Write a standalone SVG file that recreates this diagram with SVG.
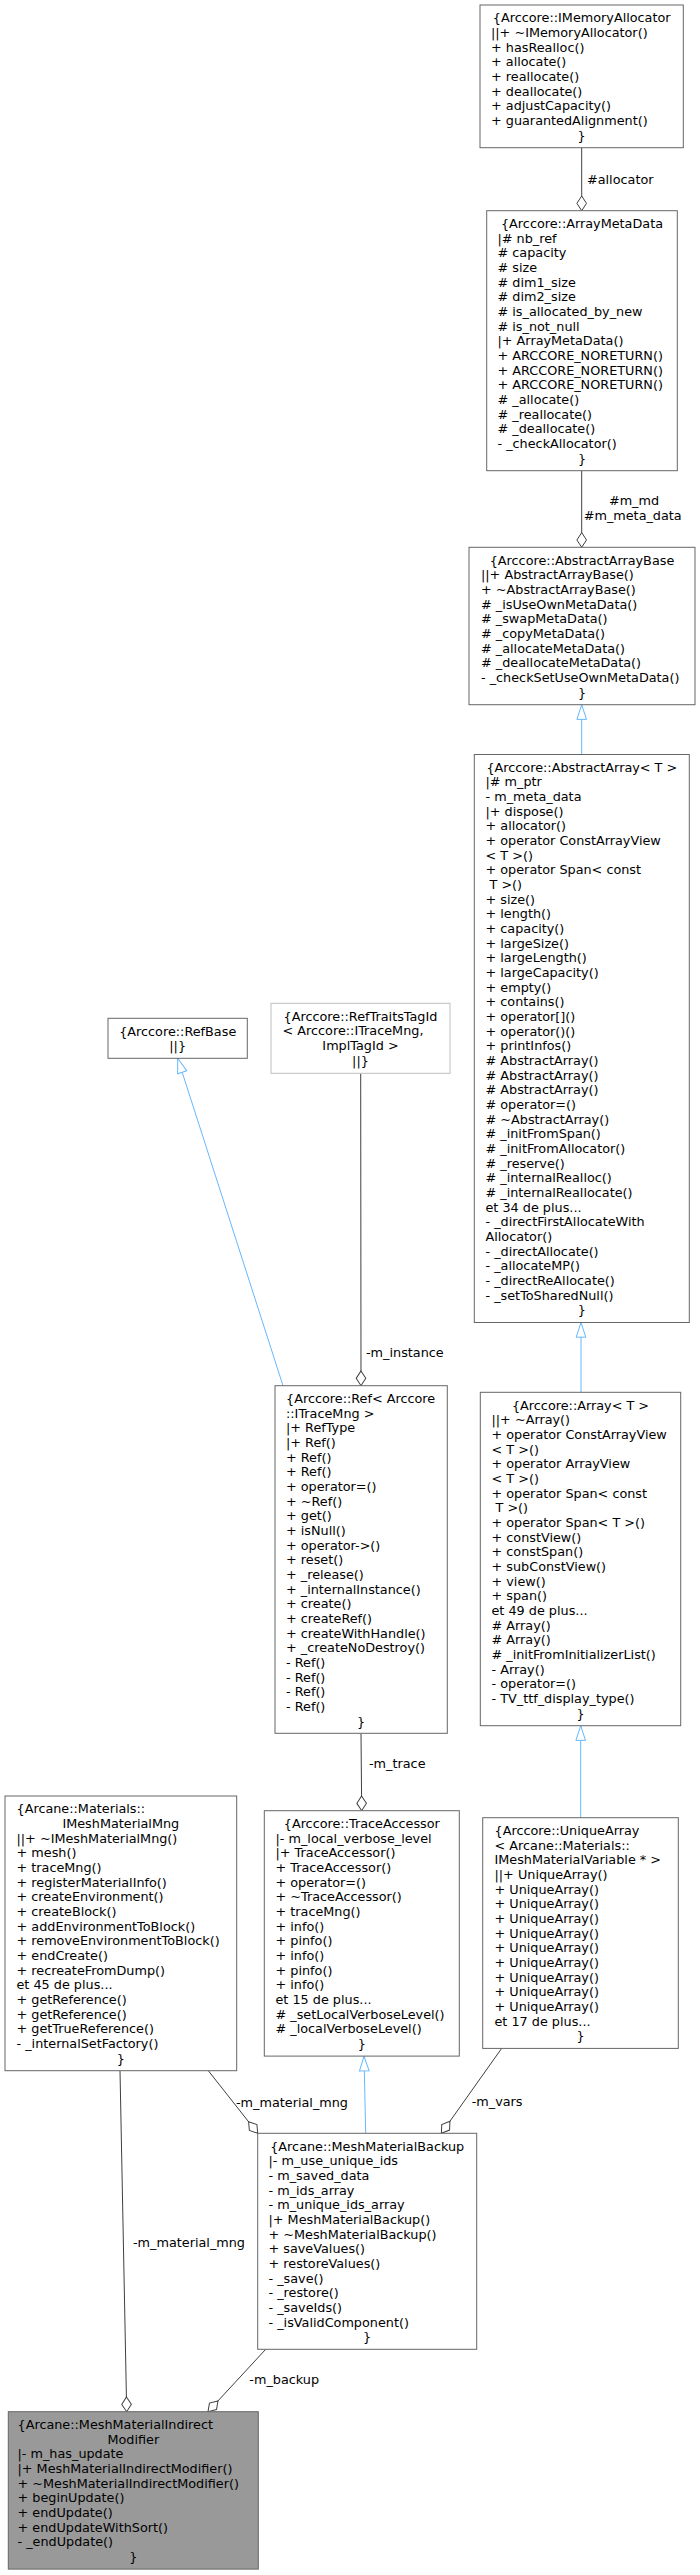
<svg xmlns="http://www.w3.org/2000/svg" width="700" height="2575" viewBox="0 0 700 2575">
<style>
.bg{fill:#ffffff}
.box{fill:#ffffff;stroke:#666666;stroke-width:1}
.boxl{fill:#ffffff;stroke:#bfbfbf;stroke-width:1}
.boxc{fill:#999999;stroke:#666666;stroke-width:1}
.t{font-family:"DejaVu Sans",sans-serif;font-size:12.8px;fill:#000000}
.c{text-anchor:middle}
.e{fill:none;stroke:#404040;stroke-width:1}
.i{fill:none;stroke:#63b8ff;stroke-width:1}
</style>
<defs>
<marker id="dia" viewBox="0 0 15 10" refX="14.7" refY="5" markerWidth="15" markerHeight="10" markerUnits="userSpaceOnUse" orient="auto" overflow="visible"><path d="M0,5 L7.35,0.2 L14.7,5 L7.35,9.8 Z" fill="#ffffff" stroke="#404040" stroke-width="1"/></marker>
<marker id="tri" viewBox="0 0 15 10" refX="14.7" refY="5" markerWidth="15" markerHeight="10" markerUnits="userSpaceOnUse" orient="auto" overflow="visible"><path d="M0,0.2 L14.7,5 L0,9.8 Z" fill="#ffffff" stroke="#63b8ff" stroke-width="1"/></marker>
</defs>
<rect class="bg" x="0" y="0" width="700" height="2575"/>

<g id="connectors">
<path class="e" d="M581.7,147.7 L581.7,210.7" marker-end="url(#dia)"/>
<path class="e" d="M581.7,470.7 L581.7,547.3" marker-end="url(#dia)"/>
<path class="i" d="M581.7,754.5 L581.7,704.7" marker-end="url(#tri)"/>
<path class="i" d="M581,1392.3 L581,1322.5" marker-end="url(#tri)"/>
<path class="i" d="M580.7,1817.7 L580.7,1725.7" marker-end="url(#tri)"/>
<path class="i" d="M283,1385.7 L177.7,1058.3" marker-end="url(#tri)"/>
<path class="e" d="M360.7,1073.3 L361,1385.7" marker-end="url(#dia)"/>
<path class="e" d="M361,1733.3 L361.7,1810.7" marker-end="url(#dia)"/>
<path class="i" d="M365.7,2133.3 L364,2056.1" marker-end="url(#tri)"/>
<path class="e" d="M208.3,2070.7 L257.7,2133.3" marker-end="url(#dia)"/>
<path class="e" d="M501.7,2048.3 L441.4,2133.3" marker-end="url(#dia)"/>
<path class="e" d="M120,2070.7 L126.7,2411.7" marker-end="url(#dia)"/>
<path class="e" d="M265.7,2349.3 L208,2411.7" marker-end="url(#dia)"/>
<text class="t" x="587" y="183.5">#allocator</text>
<text class="t c" x="634" y="504.5">#m_md</text>
<text class="t c" x="632.7" y="519.5">#m_meta_data</text>
<text class="t" x="366" y="1356.5">-m_instance</text>
<text class="t" x="369" y="1767.5">-m_trace</text>
<text class="t" x="236" y="2106.5">-m_material_mng</text>
<text class="t" x="471.7" y="2105.5">-m_vars</text>
<text class="t" x="245" y="2246.5" text-anchor="end">-m_material_mng</text>
<text class="t" x="249.3" y="2383.8">-m_backup</text>
</g>

<g id="IMemoryAllocator">
<rect class="box" x="480" y="5" width="203.3" height="142.7"/>
<text class="t c" x="581.7" y="22.2">{Arccore::IMemoryAllocator</text>
<text class="t" x="491" y="36.9"><tspan x="491">||+ ~IMemoryAllocator()</tspan><tspan x="491" dy="14.667">+ hasRealloc()</tspan><tspan x="491" dy="14.667">+ allocate()</tspan><tspan x="491" dy="14.667">+ reallocate()</tspan><tspan x="491" dy="14.667">+ deallocate()</tspan><tspan x="491" dy="14.667">+ adjustCapacity()</tspan><tspan x="491" dy="14.667">+ guarantedAlignment()</tspan></text>
<text class="t c" x="581.7" y="139.5">}</text>
</g>

<g id="ArrayMetaData">
<rect class="box" x="486.7" y="210.7" width="190.6" height="260"/>
<text class="t c" x="582" y="227.9">{Arccore::ArrayMetaData</text>
<text class="t" x="497.5" y="242.6"><tspan x="497.5">|# nb_ref</tspan><tspan x="497.5" dy="14.667"># capacity</tspan><tspan x="497.5" dy="14.667"># size</tspan><tspan x="497.5" dy="14.667"># dim1_size</tspan><tspan x="497.5" dy="14.667"># dim2_size</tspan><tspan x="497.5" dy="14.667"># is_allocated_by_new</tspan><tspan x="497.5" dy="14.667"># is_not_null</tspan><tspan x="497.5" dy="14.667">|+ ArrayMetaData()</tspan><tspan x="497.5" dy="14.667">+ ARCCORE_NORETURN()</tspan><tspan x="497.5" dy="14.667">+ ARCCORE_NORETURN()</tspan><tspan x="497.5" dy="14.667">+ ARCCORE_NORETURN()</tspan><tspan x="497.5" dy="14.667"># _allocate()</tspan><tspan x="497.5" dy="14.667"># _reallocate()</tspan><tspan x="497.5" dy="14.667"># _deallocate()</tspan><tspan x="497.5" dy="14.667">- _checkAllocator()</tspan></text>
<text class="t c" x="582" y="462.6">}</text>
</g>

<g id="AbstractArrayBase">
<rect class="box" x="469" y="547.3" width="226" height="157.4"/>
<text class="t c" x="582" y="564.5">{Arccore::AbstractArrayBase</text>
<text class="t" x="481" y="579.2"><tspan x="481">||+ AbstractArrayBase()</tspan><tspan x="481" dy="14.667">+ ~AbstractArrayBase()</tspan><tspan x="481" dy="14.667"># _isUseOwnMetaData()</tspan><tspan x="481" dy="14.667"># _swapMetaData()</tspan><tspan x="481" dy="14.667"># _copyMetaData()</tspan><tspan x="481" dy="14.667"># _allocateMetaData()</tspan><tspan x="481" dy="14.667"># _deallocateMetaData()</tspan><tspan x="481" dy="14.667">- _checkSetUseOwnMetaData()</tspan></text>
<text class="t c" x="582" y="696.5">}</text>
</g>

<g id="AbstractArray">
<rect class="box" x="474.3" y="754.5" width="215" height="568"/>
<text class="t c" x="581.8" y="771.7">{Arccore::AbstractArray&lt; T &gt;</text>
<text class="t" x="485.5" y="786.4"><tspan x="485.5">|# m_ptr</tspan><tspan x="485.5" dy="14.667">- m_meta_data</tspan><tspan x="485.5" dy="14.667">|+ dispose()</tspan><tspan x="485.5" dy="14.667">+ allocator()</tspan><tspan x="485.5" dy="14.667">+ operator ConstArrayView</tspan><tspan x="485.5" dy="14.667">&lt; T &gt;()</tspan><tspan x="485.5" dy="14.667">+ operator Span&lt; const</tspan><tspan x="489.5" dy="14.667">T &gt;()</tspan><tspan x="485.5" dy="14.667">+ size()</tspan><tspan x="485.5" dy="14.667">+ length()</tspan><tspan x="485.5" dy="14.667">+ capacity()</tspan><tspan x="485.5" dy="14.667">+ largeSize()</tspan><tspan x="485.5" dy="14.667">+ largeLength()</tspan><tspan x="485.5" dy="14.667">+ largeCapacity()</tspan><tspan x="485.5" dy="14.667">+ empty()</tspan><tspan x="485.5" dy="14.667">+ contains()</tspan><tspan x="485.5" dy="14.667">+ operator[]()</tspan><tspan x="485.5" dy="14.667">+ operator()()</tspan><tspan x="485.5" dy="14.667">+ printInfos()</tspan><tspan x="485.5" dy="14.667"># AbstractArray()</tspan><tspan x="485.5" dy="14.667"># AbstractArray()</tspan><tspan x="485.5" dy="14.667"># AbstractArray()</tspan><tspan x="485.5" dy="14.667"># operator=()</tspan><tspan x="485.5" dy="14.667"># ~AbstractArray()</tspan><tspan x="485.5" dy="14.667"># _initFromSpan()</tspan><tspan x="485.5" dy="14.667"># _initFromAllocator()</tspan><tspan x="485.5" dy="14.667"># _reserve()</tspan><tspan x="485.5" dy="14.667"># _internalRealloc()</tspan><tspan x="485.5" dy="14.667"># _internalReallocate()</tspan><tspan x="485.5" dy="14.667">et 34 de plus...</tspan><tspan x="485.5" dy="14.667">- _directFirstAllocateWith</tspan><tspan x="485.5" dy="14.667">Allocator()</tspan><tspan x="485.5" dy="14.667">- _directAllocate()</tspan><tspan x="485.5" dy="14.667">- _allocateMP()</tspan><tspan x="485.5" dy="14.667">- _directReAllocate()</tspan><tspan x="485.5" dy="14.667">- _setToSharedNull()</tspan></text>
<text class="t c" x="581.8" y="1314.4">}</text>
</g>

<g id="Array">
<rect class="box" x="480.3" y="1392.3" width="200.4" height="333.4"/>
<text class="t c" x="580.5" y="1409.5">{Arccore::Array&lt; T &gt;</text>
<text class="t" x="491.5" y="1424.2"><tspan x="491.5">||+ ~Array()</tspan><tspan x="491.5" dy="14.667">+ operator ConstArrayView</tspan><tspan x="491.5" dy="14.667">&lt; T &gt;()</tspan><tspan x="491.5" dy="14.667">+ operator ArrayView</tspan><tspan x="491.5" dy="14.667">&lt; T &gt;()</tspan><tspan x="491.5" dy="14.667">+ operator Span&lt; const</tspan><tspan x="495.5" dy="14.667">T &gt;()</tspan><tspan x="491.5" dy="14.667">+ operator Span&lt; T &gt;()</tspan><tspan x="491.5" dy="14.667">+ constView()</tspan><tspan x="491.5" dy="14.667">+ constSpan()</tspan><tspan x="491.5" dy="14.667">+ subConstView()</tspan><tspan x="491.5" dy="14.667">+ view()</tspan><tspan x="491.5" dy="14.667">+ span()</tspan><tspan x="491.5" dy="14.667">et 49 de plus...</tspan><tspan x="491.5" dy="14.667"># Array()</tspan><tspan x="491.5" dy="14.667"># Array()</tspan><tspan x="491.5" dy="14.667"># _initFromInitializerList()</tspan><tspan x="491.5" dy="14.667">- Array()</tspan><tspan x="491.5" dy="14.667">- operator=()</tspan><tspan x="491.5" dy="14.667">- TV_ttf_display_type()</tspan></text>
<text class="t c" x="580.5" y="1717.5">}</text>
</g>

<g id="UniqueArray">
<rect class="box" x="482.7" y="1817.7" width="195.6" height="230.7"/>
<text class="t" x="494.5" y="1834.9"><tspan x="494.5">{Arccore::UniqueArray</tspan><tspan x="494.5" dy="14.667">&lt; Arcane::Materials::</tspan><tspan x="494.5" dy="14.667">IMeshMaterialVariable * &gt;</tspan><tspan x="494.5" dy="14.667">||+ UniqueArray()</tspan><tspan x="494.5" dy="14.667">+ UniqueArray()</tspan><tspan x="494.5" dy="14.667">+ UniqueArray()</tspan><tspan x="494.5" dy="14.667">+ UniqueArray()</tspan><tspan x="494.5" dy="14.667">+ UniqueArray()</tspan><tspan x="494.5" dy="14.667">+ UniqueArray()</tspan><tspan x="494.5" dy="14.667">+ UniqueArray()</tspan><tspan x="494.5" dy="14.667">+ UniqueArray()</tspan><tspan x="494.5" dy="14.667">+ UniqueArray()</tspan><tspan x="494.5" dy="14.667">+ UniqueArray()</tspan><tspan x="494.5" dy="14.667">et 17 de plus...</tspan></text>
<text class="t c" x="580.5" y="2040.2">}</text>
</g>

<g id="RefBase">
<rect class="box" x="108" y="1018.3" width="139.3" height="40"/>
<text class="t c" x="177.7" y="1035.5">{Arccore::RefBase</text>
<text class="t c" x="177.7" y="1050.2">||}</text>
</g>

<g id="RefTraitsTagId">
<rect class="boxl" x="271" y="1003.3" width="179" height="70"/>
<text class="t c" x="360.5" y="1020.5">{Arccore::RefTraitsTagId</text>
<text class="t" x="282.5" y="1035.2">&lt; Arccore::ITraceMng,</text>
<text class="t c" x="360.5" y="1049.8">ImplTagId &gt;</text>
<text class="t c" x="360.5" y="1064.5">||}</text>
</g>

<g id="Ref">
<rect class="box" x="275" y="1385.7" width="172.3" height="347.6"/>
<text class="t" x="286" y="1402.9"><tspan x="286">{Arccore::Ref&lt; Arccore</tspan><tspan x="286" dy="14.667">::ITraceMng &gt;</tspan><tspan x="286" dy="14.667">|+ RefType</tspan><tspan x="286" dy="14.667">|+ Ref()</tspan><tspan x="286" dy="14.667">+ Ref()</tspan><tspan x="286" dy="14.667">+ Ref()</tspan><tspan x="286" dy="14.667">+ operator=()</tspan><tspan x="286" dy="14.667">+ ~Ref()</tspan><tspan x="286" dy="14.667">+ get()</tspan><tspan x="286" dy="14.667">+ isNull()</tspan><tspan x="286" dy="14.667">+ operator-&gt;()</tspan><tspan x="286" dy="14.667">+ reset()</tspan><tspan x="286" dy="14.667">+ _release()</tspan><tspan x="286" dy="14.667">+ _internalInstance()</tspan><tspan x="286" dy="14.667">+ create()</tspan><tspan x="286" dy="14.667">+ createRef()</tspan><tspan x="286" dy="14.667">+ createWithHandle()</tspan><tspan x="286" dy="14.667">+ _createNoDestroy()</tspan><tspan x="286" dy="14.667">- Ref()</tspan><tspan x="286" dy="14.667">- Ref()</tspan><tspan x="286" dy="14.667">- Ref()</tspan><tspan x="286" dy="14.667">- Ref()</tspan></text>
<text class="t c" x="361" y="1725.6">}</text>
</g>

<g id="TraceAccessor">
<rect class="box" x="264.3" y="1810.7" width="195" height="245.4"/>
<text class="t c" x="361.8" y="1827.9">{Arccore::TraceAccessor</text>
<text class="t" x="275.5" y="1842.6"><tspan x="275.5">|- m_local_verbose_level</tspan><tspan x="275.5" dy="14.667">|+ TraceAccessor()</tspan><tspan x="275.5" dy="14.667">+ TraceAccessor()</tspan><tspan x="275.5" dy="14.667">+ operator=()</tspan><tspan x="275.5" dy="14.667">+ ~TraceAccessor()</tspan><tspan x="275.5" dy="14.667">+ traceMng()</tspan><tspan x="275.5" dy="14.667">+ info()</tspan><tspan x="275.5" dy="14.667">+ pinfo()</tspan><tspan x="275.5" dy="14.667">+ info()</tspan><tspan x="275.5" dy="14.667">+ pinfo()</tspan><tspan x="275.5" dy="14.667">+ info()</tspan><tspan x="275.5" dy="14.667">et 15 de plus...</tspan><tspan x="275.5" dy="14.667"># _setLocalVerboseLevel()</tspan><tspan x="275.5" dy="14.667"># _localVerboseLevel()</tspan></text>
<text class="t c" x="361.8" y="2047.9">}</text>
</g>

<g id="IMeshMaterialMng">
<rect class="box" x="5" y="1796" width="231.7" height="274.7"/>
<text class="t" x="16.5" y="1813.2">{Arcane::Materials::</text>
<text class="t c" x="120.8" y="1827.9">IMeshMaterialMng</text>
<text class="t" x="16.5" y="1842.5"><tspan x="16.5">||+ ~IMeshMaterialMng()</tspan><tspan x="16.5" dy="14.667">+ mesh()</tspan><tspan x="16.5" dy="14.667">+ traceMng()</tspan><tspan x="16.5" dy="14.667">+ registerMaterialInfo()</tspan><tspan x="16.5" dy="14.667">+ createEnvironment()</tspan><tspan x="16.5" dy="14.667">+ createBlock()</tspan><tspan x="16.5" dy="14.667">+ addEnvironmentToBlock()</tspan><tspan x="16.5" dy="14.667">+ removeEnvironmentToBlock()</tspan><tspan x="16.5" dy="14.667">+ endCreate()</tspan><tspan x="16.5" dy="14.667">+ recreateFromDump()</tspan><tspan x="16.5" dy="14.667">et 45 de plus...</tspan><tspan x="16.5" dy="14.667">+ getReference()</tspan><tspan x="16.5" dy="14.667">+ getReference()</tspan><tspan x="16.5" dy="14.667">+ getTrueReference()</tspan><tspan x="16.5" dy="14.667">- _internalSetFactory()</tspan></text>
<text class="t c" x="120.8" y="2062.5">}</text>
</g>

<g id="MeshMaterialBackup">
<rect class="box" x="257.7" y="2133.3" width="219" height="216"/>
<text class="t c" x="367.2" y="2150.5">{Arcane::MeshMaterialBackup</text>
<text class="t" x="268.5" y="2165.2"><tspan x="268.5">|- m_use_unique_ids</tspan><tspan x="268.5" dy="14.667">- m_saved_data</tspan><tspan x="268.5" dy="14.667">- m_ids_array</tspan><tspan x="268.5" dy="14.667">- m_unique_ids_array</tspan><tspan x="268.5" dy="14.667">|+ MeshMaterialBackup()</tspan><tspan x="268.5" dy="14.667">+ ~MeshMaterialBackup()</tspan><tspan x="268.5" dy="14.667">+ saveValues()</tspan><tspan x="268.5" dy="14.667">+ restoreValues()</tspan><tspan x="268.5" dy="14.667">- _save()</tspan><tspan x="268.5" dy="14.667">- _restore()</tspan><tspan x="268.5" dy="14.667">- _saveIds()</tspan><tspan x="268.5" dy="14.667">- _isValidComponent()</tspan></text>
<text class="t c" x="367.2" y="2341.2">}</text>
</g>

<g id="MeshMaterialIndirectModifier">
<rect class="boxc" x="8.3" y="2411.7" width="250" height="157.4"/>
<text class="t" x="17.5" y="2428.9">{Arcane::MeshMaterialIndirect</text>
<text class="t c" x="133.3" y="2443.6">Modifier</text>
<text class="t" x="17.5" y="2458.2"><tspan x="17.5">|- m_has_update</tspan><tspan x="17.5" dy="14.667">|+ MeshMaterialIndirectModifier()</tspan><tspan x="17.5" dy="14.667">+ ~MeshMaterialIndirectModifier()</tspan><tspan x="17.5" dy="14.667">+ beginUpdate()</tspan><tspan x="17.5" dy="14.667">+ endUpdate()</tspan><tspan x="17.5" dy="14.667">+ endUpdateWithSort()</tspan><tspan x="17.5" dy="14.667">- _endUpdate()</tspan></text>
<text class="t c" x="133.3" y="2560.9">}</text>
</g>
</svg>
